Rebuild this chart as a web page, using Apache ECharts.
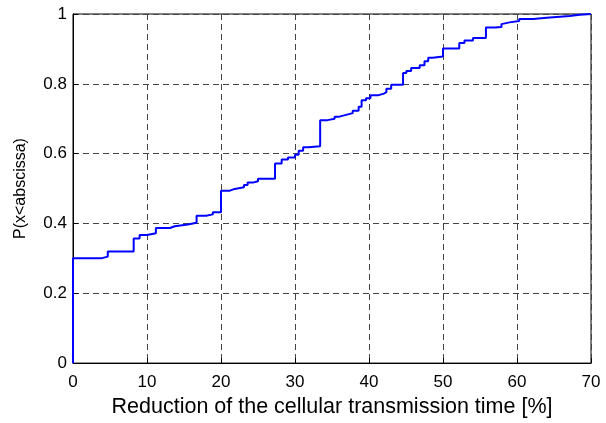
<!DOCTYPE html>
<html>
<head>
<meta charset="utf-8">
<script src="https://cdn.jsdelivr.net/npm/echarts@6/dist/echarts.min.js"></script>
<style>html,body{margin:0;padding:0;background:#fff;}#c{width:606px;height:423px;}</style>
</head>
<body>
<div id="c"></div>
<script>
const xTicks = [0, 10, 20, 30, 40, 50, 60, 70];
const yTicks = [0, 0.2, 0.4, 0.6, 0.8, 1];
const stepX = [0, 0, 3.8, 4.7, 8.2, 9.0, 10.0, 11.2, 13.1, 13.75, 15.5, 16.7, 18.0, 18.9,
  20.0, 21.2, 21.85, 23.1, 23.6, 24.3, 25.0, 27.3, 28.2, 29.05, 30.0, 30.5, 31.1, 31.8,
  33.4, 34.4, 35.35, 36.0, 36.9, 37.8, 38.6, 39.0, 39.6, 40.2, 41.2, 42.0, 42.35, 43.0,
  44.6, 45.05, 45.7, 46.85, 47.5, 48.0, 48.6, 50.0, 52.2, 52.9, 54.05, 55.8, 57.0, 57.9,
  58.1, 59.0, 60.3, 62.2, 64.0, 65.8, 67.1, 68.5, 70];
const stepY = [0, 0.30, 0.305, 0.32, 0.357, 0.367, 0.372, 0.387, 0.392, 0.397, 0.402, 0.422, 0.426, 0.432,
  0.494, 0.499, 0.504, 0.51, 0.517, 0.521, 0.528, 0.572, 0.583, 0.589, 0.597, 0.608, 0.618, 0.621,
  0.696, 0.70, 0.706, 0.711, 0.716, 0.723, 0.734, 0.753, 0.759, 0.767, 0.772, 0.776, 0.786, 0.797,
  0.831, 0.837, 0.845, 0.853, 0.865, 0.875, 0.878, 0.901, 0.917, 0.924, 0.931, 0.961, 0.963, 0.971,
  0.976, 0.98, 0.986, 0.989, 0.992, 0.994, 0.998, 1.0, 1.0];
const xLabel = 'Reduction of the cellular transmission time [%]';
const yLabel = 'P(x<abscissa)';

const data = stepX.map((x, i) => [x, stepY[i]]);
const font = 'Liberation Sans, Arial, Helvetica, sans-serif';
const chart = echarts.init(document.getElementById('c'), null, {renderer: 'canvas'});
chart.setOption({
  animation: false,
  grid: {left: 73, top: 14, right: 15, bottom: 53, show: true, borderColor: '#000', borderWidth: 1, backgroundColor: '#fff'},
  xAxis: {
    type: 'value', min: xTicks[0], max: xTicks[xTicks.length - 1], interval: 10,
    name: xLabel, nameLocation: 'middle', nameGap: 30,
    nameTextStyle: {color: '#000', fontSize: 21.5, fontFamily: font},
    axisLine: {show: true, lineStyle: {color: '#000', width: 1}},
    axisTick: {show: true, inside: true, length: 5, lineStyle: {color: '#000'}},
    axisLabel: {color: '#000', fontSize: 17, fontFamily: font, margin: 11},
    splitLine: {show: true, lineStyle: {color: '#444', width: 1, type: [6, 4]}}
  },
  yAxis: {
    type: 'value', min: yTicks[0], max: yTicks[yTicks.length - 1], interval: 0.2,
    name: yLabel, nameLocation: 'middle', nameGap: 44,
    nameTextStyle: {color: '#000', fontSize: 16, fontFamily: font},
    axisLine: {show: true, lineStyle: {color: '#000', width: 1}},
    axisTick: {show: true, inside: true, length: 5, lineStyle: {color: '#000'}},
    axisLabel: {color: '#000', fontSize: 17, fontFamily: font, margin: 6,
      formatter: v => String(Math.round(v * 10) / 10)},
    splitLine: {show: true, lineStyle: {color: '#444', width: 1, type: [6, 4]}}
  },
  series: [{
    type: 'line', step: 'end', data: data, symbol: 'none',
    lineStyle: {color: '#0000ff', width: 2}, z: 5
  }]
});
</script>
</body>
</html>
